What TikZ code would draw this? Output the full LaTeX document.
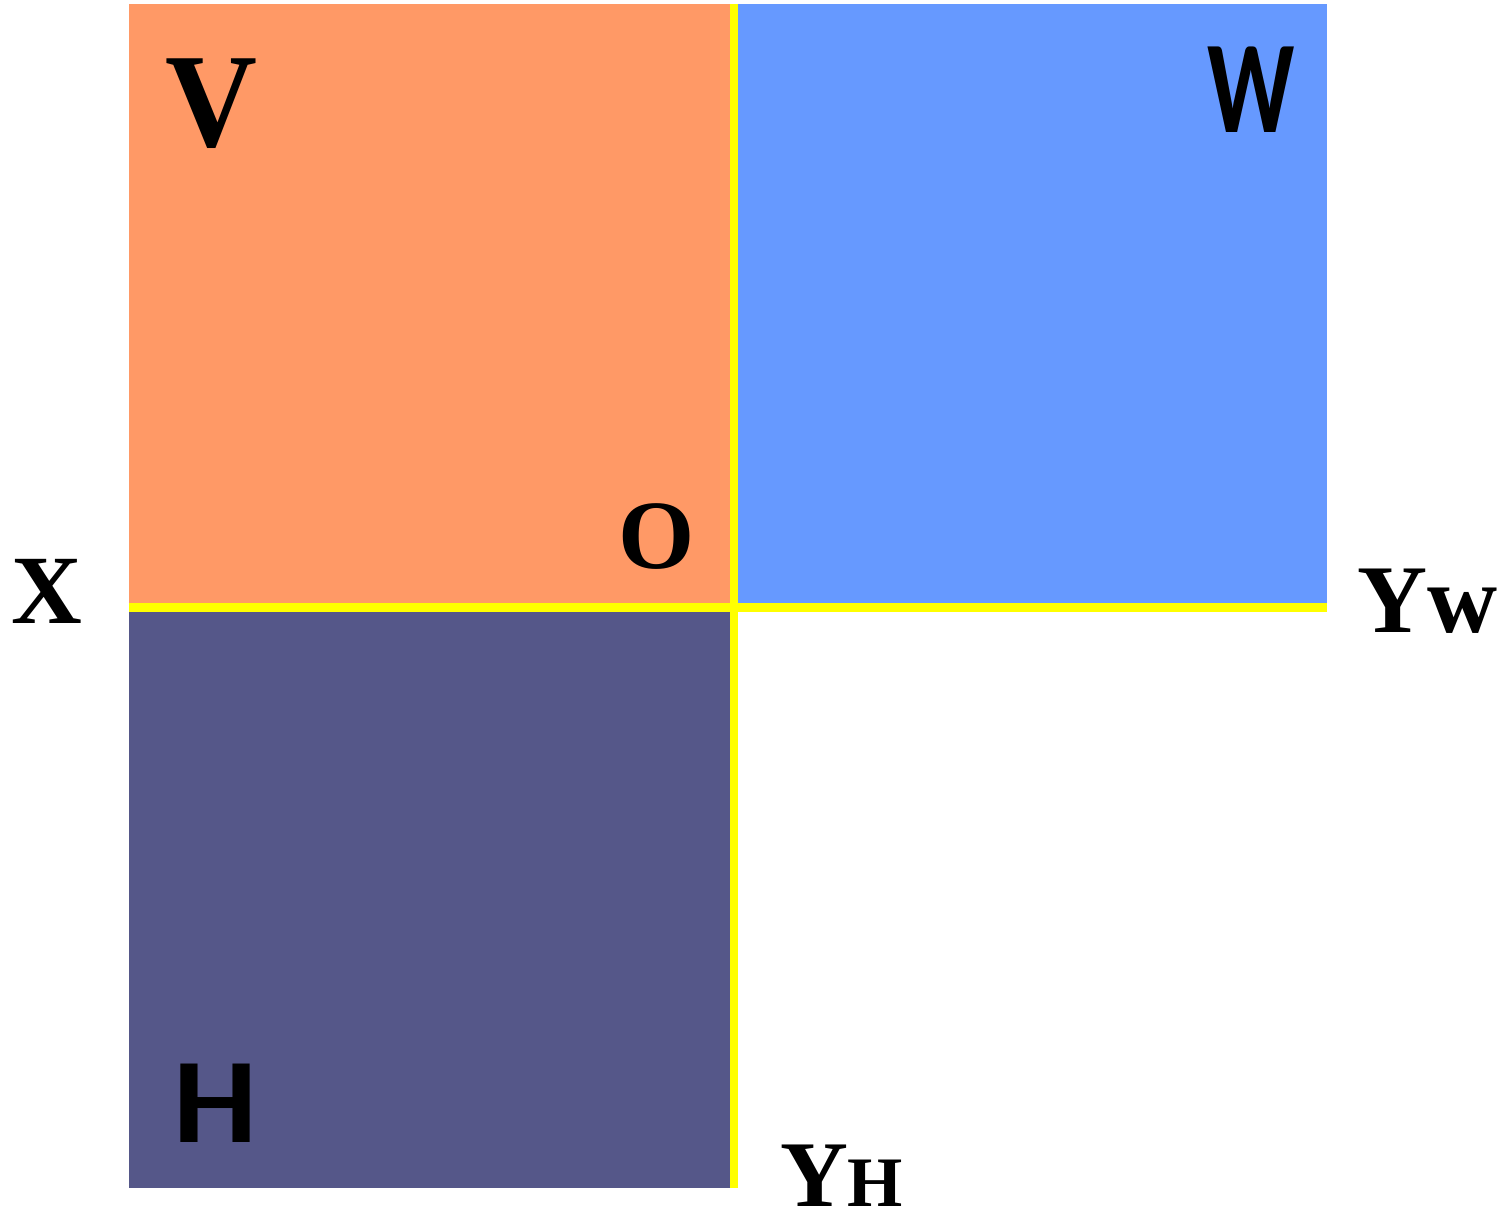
\documentclass[tikz,border=0pt]{standalone}
\usepackage{fontspec}
\usepackage{graphicx}
\newfontfamily\tnrfont{Liberation Serif Bold}
\newfontfamily\carlfont{Carlito Bold}
\definecolor{vorange}{RGB}{255,153,102}
\definecolor{wblue}{RGB}{102,153,255}
\definecolor{hdark}{RGB}{85,87,137}
\definecolor{axisyellow}{RGB}{255,255,0}
\tikzset{
  serlab/.style={inner sep=0pt, outer sep=0pt, font=\tnrfont},
  sanlab/.style={inner sep=0pt, outer sep=0pt, font=\carlfont},
  axisline/.style={draw=axisyellow, line width=8.5pt}
}
\begin{document}
\begin{tikzpicture}[x=1pt,y=-1pt]
\useasboundingbox (0,0) rectangle (1505,1217);
\fill[vorange] (129,4) rectangle (730,603);
\fill[wblue] (738,4) rectangle (1327,603);
\fill[hdark] (129,612) rectangle (730,1188);
\coordinate (xl) at (129,607.5);
\coordinate (xr) at (1327,607.5);
\coordinate (yt) at (734,4);
\coordinate (yb) at (734,1188);
\draw[axisline] (xl) -- (xr);
\draw[axisline] (yt) -- (yb);
\node[serlab, anchor=base] (V) at (211,147) {\fontsize{134}{140}\selectfont\scalebox{0.95}[1]{V}};
\node[serlab, anchor=base] (O) at (657,568) {\fontsize{98}{100}\selectfont O};
\node[serlab, anchor=base] (X) at (46.5,623) {\fontsize{98}{100}\selectfont X};
\node[serlab, anchor=base west] (Yw) at (1357,632) {\fontsize{97}{100}\selectfont Yw};
\node[serlab, anchor=base west] (YH) at (780,1206) {\fontsize{94}{100}\selectfont Y\fontsize{71}{75}\selectfont H};
\node[sanlab, anchor=base] (W) at (1251.5,133) {\fontsize{132}{140}\selectfont\scalebox{0.73}[1]{W}};
\node[sanlab, anchor=base] (H) at (215,1142) {\fontsize{121}{130}\selectfont\scalebox{1.1}[1]{H}};
\end{tikzpicture}
\end{document}
